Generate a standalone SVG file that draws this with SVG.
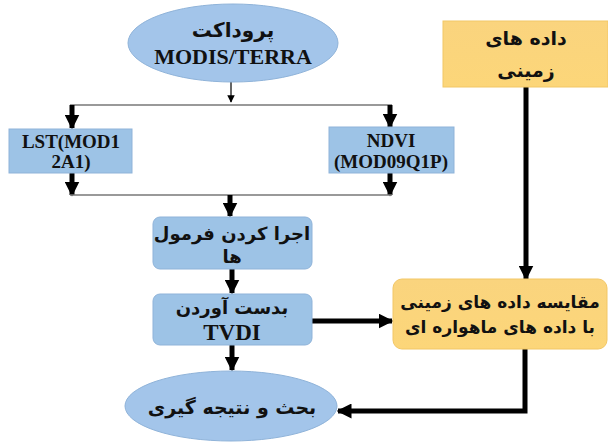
<svg xmlns="http://www.w3.org/2000/svg" width="608" height="443" viewBox="0 0 608 443">
<defs>
<marker id="ah" viewBox="0 0 10 10" refX="9" refY="5" markerWidth="3" markerHeight="3" orient="auto" markerUnits="strokeWidth"><path d="M0,0 L10,5 L0,10 z" fill="#000"/></marker>
<marker id="ahs" viewBox="0 0 10 10" refX="9" refY="5" markerWidth="5" markerHeight="5" orient="auto" markerUnits="strokeWidth"><path d="M0,0 L10,5 L0,10 z" fill="#000"/></marker>
<linearGradient id="yel" x1="0" y1="0" x2="0" y2="1"><stop offset="0" stop-color="#FAD47E"/><stop offset="1" stop-color="#FCD679"/></linearGradient>
</defs>
<style>
.blue{fill:#9DC3E6;stroke:#8FB3D9;stroke-width:1}
.ell{fill:#A3C5EA;stroke:#8FB3D9;stroke-width:1}
.yel{fill:url(#yel);stroke:#F2C766;stroke-width:1}
.fa{font-family:"DejaVu Sans",sans-serif;font-weight:bold;fill:#111;text-anchor:middle}
.en{font-family:"Liberation Serif",serif;font-weight:bold;fill:#111;text-anchor:middle}
.thick{stroke:#000;stroke-width:5;fill:none}
.thin{stroke:#777;stroke-width:1.5;fill:none}
</style>
<rect width="608" height="443" fill="#fff"/>
<g id="connectors">
<line class="thin" x1="231" y1="82" x2="231" y2="102" style="stroke:#333" marker-end="url(#ahs)"/>
<line class="thin" x1="70" y1="105" x2="392" y2="105"/>
<line class="thick" x1="72" y1="105" x2="72" y2="128" marker-end="url(#ah)"/>
<line class="thick" x1="390" y1="105" x2="390" y2="127" marker-end="url(#ah)"/>
<line class="thick" x1="72" y1="173" x2="72" y2="195" marker-end="url(#ah)"/>
<line class="thick" x1="390" y1="173" x2="390" y2="195" marker-end="url(#ah)"/>
<line class="thin" x1="70" y1="195" x2="392" y2="195"/>
<line class="thick" x1="230" y1="195" x2="230" y2="216" marker-end="url(#ah)"/>
<line class="thick" x1="232" y1="269" x2="232" y2="293" marker-end="url(#ah)"/>
<line class="thick" x1="232" y1="345" x2="232" y2="370" marker-end="url(#ah)"/>
<line class="thick" x1="312" y1="321" x2="392" y2="321" marker-end="url(#ah)"/>
<line class="thick" x1="526" y1="87" x2="526" y2="279" marker-end="url(#ah)"/>
<polyline class="thick" points="525,349 525,411 338,411" marker-end="url(#ah)"/>
</g>
<g id="modis">
<ellipse class="ell" cx="233" cy="43" rx="105" ry="39"/>
<text class="fa" x="233" y="37" style="font-size:20px">پروداکت</text>
<text class="en" x="233" y="64" style="font-size:22px">MODIS/TERRA</text>
</g>
<g id="lst">
<rect class="blue" x="9" y="129" width="123" height="44"/>
<text class="en" x="71" y="148" style="font-size:19px">LST(MOD1</text>
<text class="en" x="71" y="168" style="font-size:19px">2A1)</text>
</g>
<g id="ndvi">
<rect class="blue" x="329" y="127" width="125" height="46"/>
<text class="en" x="391" y="147" style="font-size:19px">NDVI</text>
<text class="en" x="391" y="168" style="font-size:19px">(MOD09Q1P)</text>
</g>
<g id="formula">
<rect class="blue" x="153" y="217" width="159" height="52" rx="7"/>
<text class="fa" x="232" y="240" style="font-size:18px">اجرا کردن فرمول</text>
<text class="fa" x="232" y="263" style="font-size:18px">ها</text>
</g>
<g id="tvdi">
<rect class="blue" x="153" y="294" width="159" height="51" rx="7"/>
<text class="fa" x="232" y="314" style="font-size:18px">بدست آوردن</text>
<text class="en" x="232" y="340" style="font-size:23px">TVDI</text>
</g>
<g id="ground">
<rect class="yel" x="443" y="21" width="165" height="66"/>
<text class="fa" x="526" y="45" style="font-size:19px">داده های</text>
<text class="fa" x="526" y="77" style="font-size:19px">زمینی</text>
</g>
<g id="compare">
<rect class="yel" x="393" y="279" width="214" height="70" rx="9"/>
<text class="fa" x="500" y="308" style="font-size:17px">مقایسه داده های زمینی</text>
<text class="fa" x="500" y="333" style="font-size:17px">با داده های ماهواره ای</text>
</g>
<g id="result">
<ellipse class="ell" cx="231" cy="406" rx="106" ry="35"/>
<text class="fa" x="232" y="414" style="font-size:19px">بحث و نتیجه گیری</text>
</g>
</svg>
